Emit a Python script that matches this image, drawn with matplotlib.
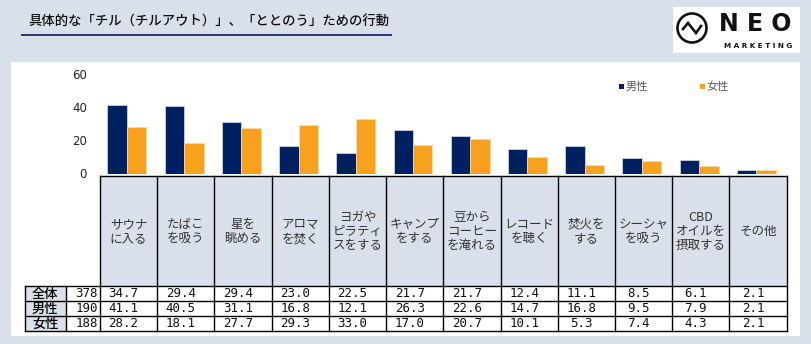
import matplotlib
matplotlib.use('Agg')
import matplotlib.pyplot as plt
from matplotlib.patches import Rectangle, Circle
import numpy as np

plt.rcParams['font.family'] = ['Noto Sans CJK JP', 'DejaVu Sans']

# data
title = '具体的な「チル（チルアウト）」、「ととのう」ための行動'
categories = ['サウナ\nに入る', 'たばこ\nを吸う', '星を\n眺める', 'アロマ\nを焚く',
              'ヨガや\nピラティ\nスをする', 'キャンプ\nをする', '豆から\nコーヒー\nを淹れる',
              'レコード\nを聴く', '焚火を\nする', 'シーシャ\nを吸う',
              'CBD\nオイルを\n摂取する', 'その他']
total = [34.7, 29.4, 29.4, 23.0, 22.5, 21.7, 21.7, 12.4, 11.1, 8.5, 6.1, 2.1]
male = [41.1, 40.5, 31.1, 16.8, 12.1, 26.3, 22.6, 14.7, 16.8, 9.5, 7.9, 2.1]
female = [28.2, 18.1, 27.7, 29.3, 33.0, 17.0, 20.7, 10.1, 5.3, 7.4, 4.3, 2.1]
row_labels = ['全体', '男性', '女性']
row_n = [378, 190, 188]
series_names = ['男性', '女性']
yticks = [0, 20, 40, 60]

BG = '#DAE0EA'
NAVY = '#002060'
ORANGE = '#F8A11E'
W, H = 812, 344

fig = plt.figure(figsize=(W / 100, H / 100), dpi=100, facecolor=BG)

# pixel space overlay for panel, title, table, logo
bg = fig.add_axes([0, 0, 1, 1])
bg.set_xlim(0, W)
bg.set_ylim(H, 0)
bg.axis('off')

bg.add_patch(Rectangle((11, 62), 789, 274, facecolor='white', edgecolor='none'))

# title
bg.text(28, 22, title, fontsize=9.6, color='#111', ha='left', va='center',
        fontweight='medium')
bg.plot([21, 392], [35.3, 35.3], color='#1F2A6B', lw=1.3, solid_capstyle='butt')

# logo
bg.add_patch(Rectangle((673, 7), 127, 46, facecolor='white', edgecolor='none'))
bg.add_patch(Circle((692, 28), 14.5, facecolor='none', edgecolor='#111', lw=1.9))
bg.plot([683, 688, 696, 701], [29, 23, 33, 26], color='#111', lw=1.9,
        solid_joinstyle='miter')
bg.text(755, 24, 'N E O', fontsize=17, fontweight='bold', color='#111',
        ha='center', va='center', family='DejaVu Sans')
bg.text(758, 46, 'M A R K E T I N G', fontsize=5.2, fontweight='bold', color='#111',
        ha='center', va='center', family='DejaVu Sans')

# bars
x0, x1 = 100, 786.7
ax = fig.add_axes([x0 / W, 1 - 173.5 / H, (x1 - x0) / W, 99.5 / H])
ax.patch.set_visible(False)
x = np.arange(len(categories))
ax.bar(x - 0.2, male, 0.34, color=NAVY, edgecolor='#c9d2e3', lw=0.6)
ax.bar(x + 0.14, female, 0.34, color=ORANGE, edgecolor='#fbd9a8', lw=0.6)
ax.set_xlim(-0.5, len(categories) - 0.5)
ax.set_ylim(0, 60)
ax.set_yticks(yticks)
ax.set_xticks([])
ax.tick_params(axis='y', length=0, pad=9.5, labelsize=8.5, labelcolor='#222')
for lab in ax.get_yticklabels():
    lab.set_family(['Liberation Sans Narrow', 'DejaVu Sans'])
for s in ax.spines.values():
    s.set_visible(False)

# legend
for k, (name, col) in enumerate(zip(series_names, [NAVY, ORANGE])):
    lx = 621.7 + k * 81
    bg.add_patch(Rectangle((lx - 2.5, 84), 5, 5, facecolor=col, edgecolor='none'))
    bg.text(lx + 4, 86.5, name, fontsize=8, color='#595959', ha='left', va='center')

# table
edges = np.linspace(x0, x1, len(categories) + 1)
y_head, y_rows = 175.7, 286.0
row_h = 15.1
y_bot = y_rows + row_h * 3
lc = 'black'
lw = 1.0
for i in range(len(categories)):
    bg.add_patch(Rectangle((edges[i], y_head), edges[i + 1] - edges[i], y_rows - y_head,
                           facecolor=BG, edgecolor='none'))
    bg.text((edges[i] + edges[i + 1]) / 2, 231.5, categories[i], ha='center', va='center',
            fontsize=9, color='#333', linespacing=1.12)
for j in range(3):
    bg.add_patch(Rectangle((24.7, y_rows + j * row_h), 41, row_h, facecolor=BG,
                           edgecolor='none'))
# lines
for e in edges:
    bg.plot([e, e], [y_head, y_bot], color=lc, lw=lw)
bg.plot([x0, x1], [y_head, y_head], color=lc, lw=lw)
for j in range(4):
    yy = y_rows + j * row_h
    bg.plot([24.7, x1], [yy, yy], color=lc, lw=lw)
bg.plot([24.7, 24.7], [y_rows, y_bot], color=lc, lw=lw)
bg.plot([65.7, 65.7], [y_rows, y_bot], color=lc, lw=lw)

for j, vals in enumerate([total, male, female]):
    yc = y_rows + (j + 0.5) * row_h
    bg.text(45.2, yc, row_labels[j], ha='center', va='center', fontsize=9.5, color='black',
            fontweight='medium')
    bg.text(98, yc, str(row_n[j]), ha='right', va='center', fontsize=9,
            family='DejaVu Sans Mono', color='#111')
    for i, v in enumerate(vals):
        bg.text((edges[i] + edges[i + 1]) / 2 - 5, yc, '%.1f' % v, ha='center', va='center',
                fontsize=9, family='DejaVu Sans Mono', color='#111')

fig.savefig('out.png', dpi=100, facecolor=BG)
